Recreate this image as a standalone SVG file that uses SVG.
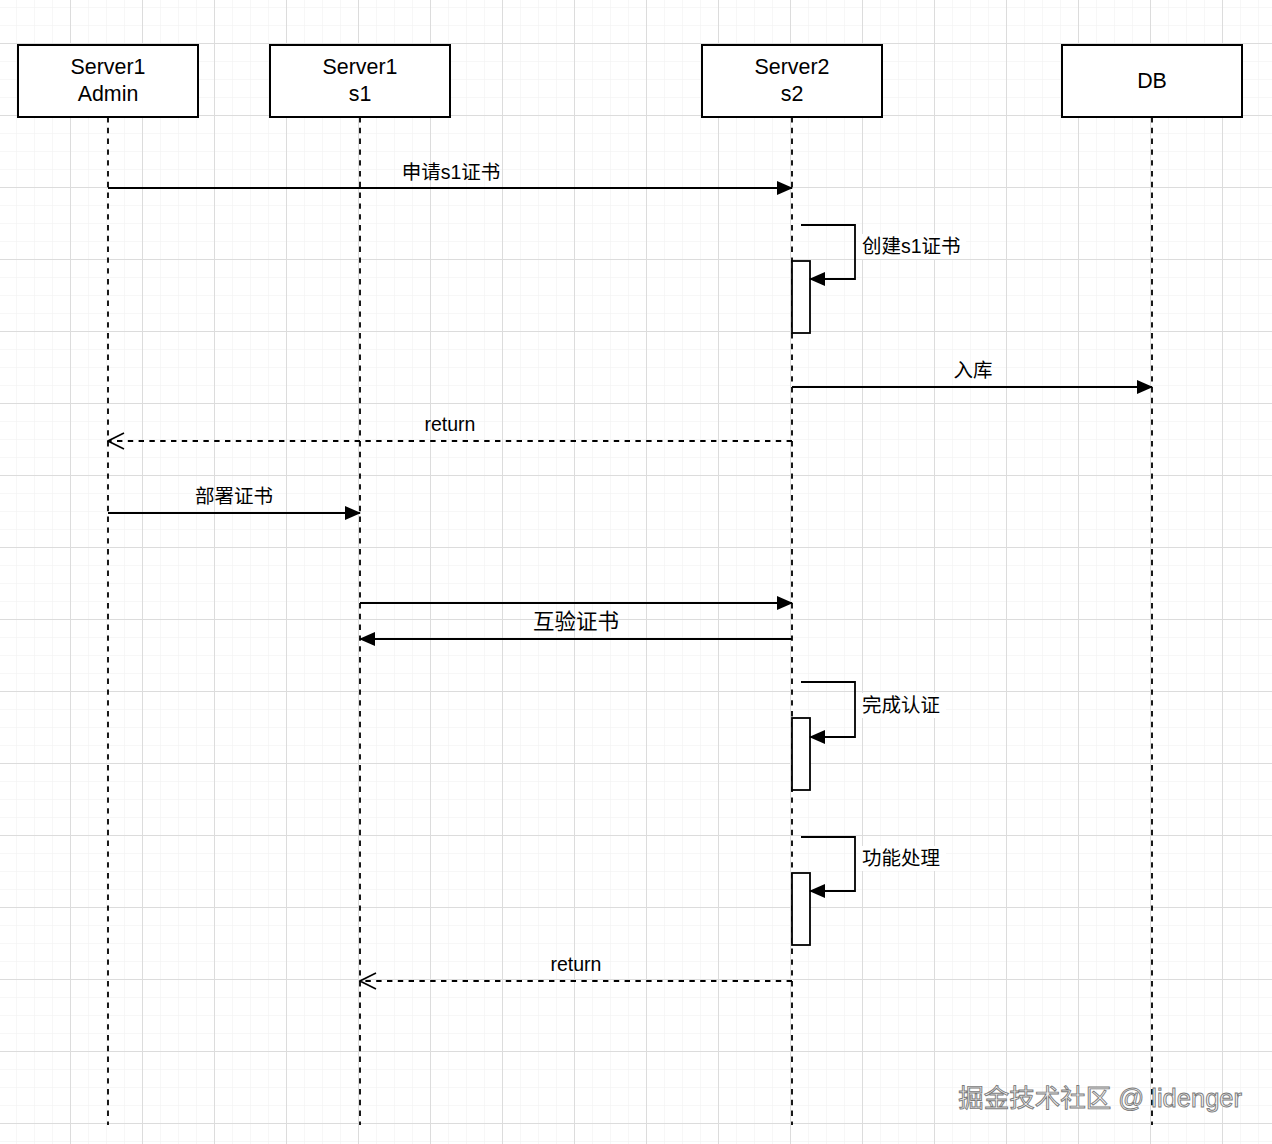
<svg xmlns="http://www.w3.org/2000/svg" width="1272" height="1144" viewBox="0 0 1272 1144">
<defs>
<pattern id="minor" x="-2" y="-29" width="18" height="18" patternUnits="userSpaceOnUse">
<path d="M0 0V18M0 0H18" stroke="#efefef" stroke-width="1" fill="none"/>
</pattern>
<pattern id="major" x="-2" y="-29" width="72" height="72" patternUnits="userSpaceOnUse">
<path d="M0.5 0V72M0 0.5H72" stroke="#dcdcdc" stroke-width="1" fill="none"/>
</pattern>
<marker id="filled" markerWidth="16" markerHeight="14" refX="15" refY="7" orient="auto" markerUnits="userSpaceOnUse">
<path d="M0 0L16 7L0 14Z" fill="#000"/>
</marker>
<marker id="open" markerWidth="18" markerHeight="18" refX="17" refY="9" orient="auto" markerUnits="userSpaceOnUse">
<path d="M1 1L17 9L1 17" fill="none" stroke="#000" stroke-width="1.6"/>
</marker>
</defs>
<style>
text{font-family:"Liberation Sans","Noto Sans CJK SC",sans-serif;fill:#000}
.box{fill:#fff;stroke:#000;stroke-width:2}
.life{stroke:#000;stroke-width:1.8;stroke-dasharray:5.4 5.4;fill:none}
.msg{stroke:#000;stroke-width:1.8;fill:none}
.ret{stroke:#000;stroke-width:1.8;stroke-dasharray:5.4 5.4;fill:none}
.act{fill:#fff;stroke:#000;stroke-width:1.8}
.hd{font-size:21.4px;text-anchor:middle}
.lb{font-size:19.5px;text-anchor:middle}
.sl{font-size:19.5px}
</style>
<rect width="1272" height="1144" fill="#fff"/>
<rect width="1272" height="1144" fill="url(#minor)"/>
<rect width="1272" height="1144" fill="url(#major)"/>

<g id="lifelines">
<path class="life" d="M108 117V1125"/>
<path class="life" d="M360 117V1125"/>
<path class="life" d="M792 117V1125"/>
<path class="life" d="M1152 117V1125"/>
</g>

<g id="node-admin">
<rect class="box" x="18" y="45" width="180" height="72"/>
<text class="hd" x="108" y="74">Server1</text>
<text class="hd" x="108" y="101">Admin</text>
</g>
<g id="node-s1">
<rect class="box" x="270" y="45" width="180" height="72"/>
<text class="hd" x="360" y="74">Server1</text>
<text class="hd" x="360" y="101">s1</text>
</g>
<g id="node-s2">
<rect class="box" x="702" y="45" width="180" height="72"/>
<text class="hd" x="792" y="74">Server2</text>
<text class="hd" x="792" y="101">s2</text>
</g>
<g id="node-db">
<rect class="box" x="1062" y="45" width="180" height="72"/>
<text class="hd" x="1152" y="88">DB</text>
</g>

<g id="activations">
<rect class="act" x="792" y="261" width="18" height="72"/>
<rect class="act" x="792" y="718" width="18" height="72"/>
<rect class="act" x="792" y="873" width="18" height="72"/>
</g>

<g id="connectors">
<path class="msg" d="M108 188H792" marker-end="url(#filled)"/>
<text class="lb" x="451" y="179">申请s1证书</text>

<path class="msg" d="M801 225H855V279H810" marker-end="url(#filled)"/>
<rect x="860" y="234" width="106" height="25" fill="#fff"/>
<text class="sl" x="862" y="253">创建s1证书</text>

<path class="msg" d="M792 387H1152" marker-end="url(#filled)"/>
<text class="lb" x="973" y="377">入库</text>

<path class="ret" d="M792 441H108" marker-end="url(#open)"/>
<text class="lb" x="450" y="431">return</text>

<path class="msg" d="M108 513H360" marker-end="url(#filled)"/>
<text class="lb" x="234" y="503">部署证书</text>

<path class="msg" d="M360 603H792" marker-end="url(#filled)"/>
<path class="msg" d="M792 639H360" marker-end="url(#filled)"/>
<text x="576" y="629" font-size="21.5" text-anchor="middle">互验证书</text>

<path class="msg" d="M801 682H855V737H810" marker-end="url(#filled)"/>
<rect x="860" y="693" width="86" height="25" fill="#fff"/>
<text class="sl" x="862" y="712">完成认证</text>

<path class="msg" d="M801 837H855V891H810" marker-end="url(#filled)"/>
<rect x="860" y="846" width="86" height="25" fill="#fff"/>
<text class="sl" x="862" y="865">功能处理</text>

<path class="ret" d="M792 981H360" marker-end="url(#open)"/>
<text class="lb" x="576" y="971">return</text>
</g>

<text x="1242" y="1107" font-size="25.5" text-anchor="end" style="fill:#f2f2f2;stroke:#7a7a7a;stroke-width:0.9">掘金技术社区 @ lidenger</text>
</svg>
